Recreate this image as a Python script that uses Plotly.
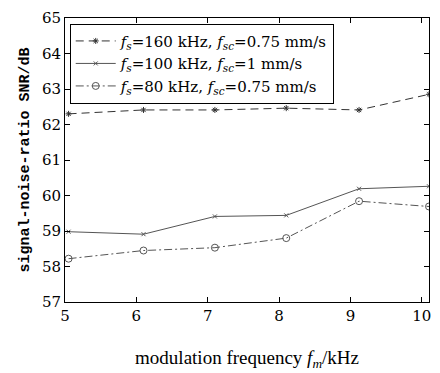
import plotly.graph_objects as go

x_vals = [5.05, 6.1, 7.1, 8.1, 9.12, 10.1]
snr_160 = [62.3, 62.41, 62.41, 62.46, 62.41, 62.85]
snr_100 = [58.98, 58.91, 59.41, 59.44, 60.19, 60.26]
snr_80 = [58.22, 58.45, 58.53, 58.8, 59.84, 59.69]

names = [
    "<i>f</i><sub><i>s</i></sub>=160 kHz, <i>f</i><sub><i>sc</i></sub>=0.75 mm/s",
    "<i>f</i><sub><i>s</i></sub>=100 kHz, <i>f</i><sub><i>sc</i></sub>=1 mm/s",
    "<i>f</i><sub><i>s</i></sub>=80 kHz, <i>f</i><sub><i>sc</i></sub>=0.75 mm/s",
]

fig = go.Figure()
fig.add_trace(go.Scatter(x=x_vals, y=snr_160, name=names[0], mode="lines+markers",
                         line=dict(color="#333333", width=1, dash="8px,5px"),
                         marker=dict(symbol="asterisk-open", size=5, color="#333333",
                                     line=dict(width=1, color="#333333"))))
fig.add_trace(go.Scatter(x=x_vals, y=snr_100, name=names[1], mode="lines+markers",
                         line=dict(color="#555555", width=1),
                         marker=dict(symbol="x-thin-open", size=4, color="#555555",
                                     line=dict(width=1, color="#555555"))))
fig.add_trace(go.Scatter(x=x_vals, y=snr_80, name=names[2], mode="lines+markers",
                         line=dict(color="#555555", width=1, dash="8px,3px,2px,3px"),
                         marker=dict(symbol="circle-open", size=7, color="#555555",
                                     line=dict(width=1, color="#555555"))))

axis_common = dict(showgrid=False, zeroline=False, showline=True, linecolor="black",
                   linewidth=1, mirror="ticks", ticks="inside", ticklen=5,
                   tickcolor="black",
                   tickfont=dict(family="DejaVu Serif", size=15, color="black"))

fig.update_layout(
    width=440, height=373,
    margin=dict(l=65, r=9, t=16, b=69),
    plot_bgcolor="white", paper_bgcolor="white",
    showlegend=True,
    legend=dict(x=0.013, y=0.98, xanchor="left", yanchor="top",
                bordercolor="black", borderwidth=1, bgcolor="white",
                font=dict(family="DejaVu Serif", size=15, color="black"),
                tracegroupgap=0, itemwidth=40),
    xaxis=dict(range=[5, 10.1], tickvals=[5, 6, 7, 8, 9, 10],
               title=dict(text="modulation frequency <i>f</i><sub><i>m</i></sub>/kHz",
                          font=dict(family="Liberation Serif", size=19, color="black"),
                          standoff=26),
               **axis_common),
    yaxis=dict(range=[57, 65], tickvals=list(range(57, 66)),
               title=dict(text="<b>signal-noise-ratio SNR/dB</b>",
                          font=dict(family="Liberation Mono", size=15, color="black"),
                          standoff=8),
               **axis_common),
)

fig.write_html("out.html")
